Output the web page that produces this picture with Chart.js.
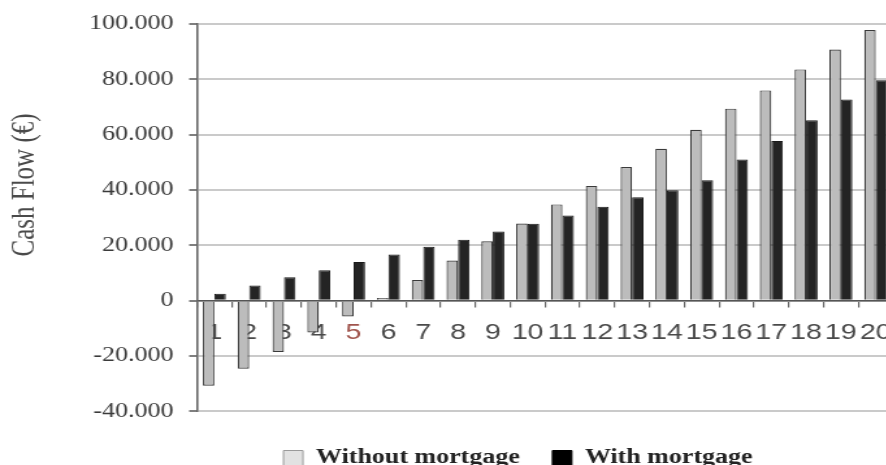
<!DOCTYPE html>
<html>
<head>
<meta charset="utf-8">
<script src="https://cdn.jsdelivr.net/npm/chart.js@4"></script>
<style>
  html, body { margin: 0; padding: 0; background: #fff; overflow: hidden; }
  #wrap { width: 886px; height: 465px; overflow: hidden; position: relative; }
  /* the source picture is stretched sideways, so the chart is drawn narrow and widened */
  #box { width: 700px; height: 478px; position: absolute; left: 0; top: 0; transform: scaleX(1.3); transform-origin: 0 0; }
</style>
</head>
<body>
<div id="wrap"><div id="box"><canvas id="chart"></canvas></div></div>
<script>
const years = ['1', '2', '3', '4', '5', '6', '7', '8', '9', '10',
  '11', '12', '13', '14', '15', '16', '17', '18', '19', '20']
const withoutMortgage = [-30700, -24600, -18500, -11500, -5700, 1000, 7500, 14500, 21500, 27900,
  34800, 41500, 48300, 54900, 61800, 69400, 76000, 83600, 90800, 97800]
const withMortgage = [2500, 5500, 8500, 11000, 14000, 16700, 19500, 22000, 25000, 27800,
  30800, 34000, 37400, 39900, 43500, 51000, 57700, 65200, 72700, 79700]
const yTicks = [-40000, -20000, 0, 20000, 40000, 60000, 80000, 100000]
const yTitle = 'Cash Flow (€)'

const serif = '"Liberation Serif", "Times New Roman", serif'
const sans = '"Liberation Sans", Arial, sans-serif'

function dotThousands (v) {
  const s = String(Math.abs(v)).replace(/\B(?=(\d{3})+(?!\d))/g, '.')
  return (v < 0 ? '-' : '') + s
}

const legendFill = ['#e2e2e2', '#000000']
const legendStroke = ['#9a9a9a', '#000000']

// legend sits right of centre in the source
const legendShift = {
  id: 'legendShift',
  afterLayout (chart) {
    const lg = chart.legend
    if (!lg) return
    lg.left += 55
    lg.right += 55
  }
}

// y title sits above the middle of the axis in the source
const sideTitle = {
  id: 'sideTitle',
  afterDraw (chart) {
    const ctx = chart.ctx
    ctx.save()
    ctx.translate(19, 185)
    ctx.rotate(-Math.PI / 2)
    ctx.font = '25px ' + serif
    ctx.fillStyle = '#4a4a4a'
    ctx.textAlign = 'center'
    ctx.textBaseline = 'middle'
    ctx.fillText(yTitle, 0, 0)
    ctx.restore()
  }
}

new Chart(document.getElementById('chart'), {
  type: 'bar',
  data: {
    labels: years,
    datasets: [
      {
        label: 'Without mortgage',
        data: withoutMortgage,
        backgroundColor: '#bcbcbc',
        borderColor: '#3a3a3a',
        borderWidth: 1.2,
        barPercentage: 1,
        categoryPercentage: 0.66
      },
      {
        label: 'With mortgage',
        data: withMortgage,
        backgroundColor: '#242424',
        borderColor: '#1a1a1a',
        borderWidth: 1,
        barPercentage: 1,
        categoryPercentage: 0.66
      }
    ]
  },
  options: {
    responsive: true,
    maintainAspectRatio: false,
    animation: false,
    layout: { padding: { top: 24, right: 13, left: 0, bottom: 0 } },
    scales: {
      x: {
        position: { y: 0 },
        offset: true,
        border: { display: true, color: '#555', width: 1.6 },
        grid: { display: true, drawOnChartArea: false, drawTicks: true, tickLength: 6, color: '#666', lineWidth: 1.2, offset: true },
        ticks: {
          padding: 13,
          font: { family: sans, size: 22 },
          color: ctx => (ctx.index === 4 ? '#a0544c' : '#4a4a4a'),
          maxRotation: 0,
          autoSkip: false
        }
      },
      y: {
        min: -40000,
        max: 100000,
        afterBuildTicks: scale => { scale.ticks = yTicks.map(v => ({ value: v })) },
        afterFit: scale => { scale.width = 151.5 },
        border: { display: true, color: '#666', width: 1.6 },
        grid: { color: '#cacaca', lineWidth: 2, tickLength: 6, tickColor: '#555', tickWidth: 1.5 },
        ticks: {
          padding: 12,
          font: { family: serif, size: 20 },
          color: '#3a3a3a',
          callback: v => dotThousands(v)
        }
      }
    },
    plugins: {
      tooltip: { enabled: false },
      legend: {
        display: true,
        position: 'bottom',
        title: { display: true, text: ' ', font: { size: 8 }, padding: { top: 1, bottom: 1 } },
        labels: {
          boxWidth: 15,
          boxHeight: 15,
          padding: 25,
          font: { family: serif, size: 20, weight: 'bold' },
          color: '#222',
          generateLabels: chart => chart.data.datasets.map((ds, i) => ({
            text: ds.label,
            fillStyle: legendFill[i],
            strokeStyle: legendStroke[i],
            lineWidth: 1,
            fontColor: '#222',
            datasetIndex: i
          }))
        }
      }
    }
  },
  plugins: [legendShift, sideTitle]
})
</script>
</body>
</html>
